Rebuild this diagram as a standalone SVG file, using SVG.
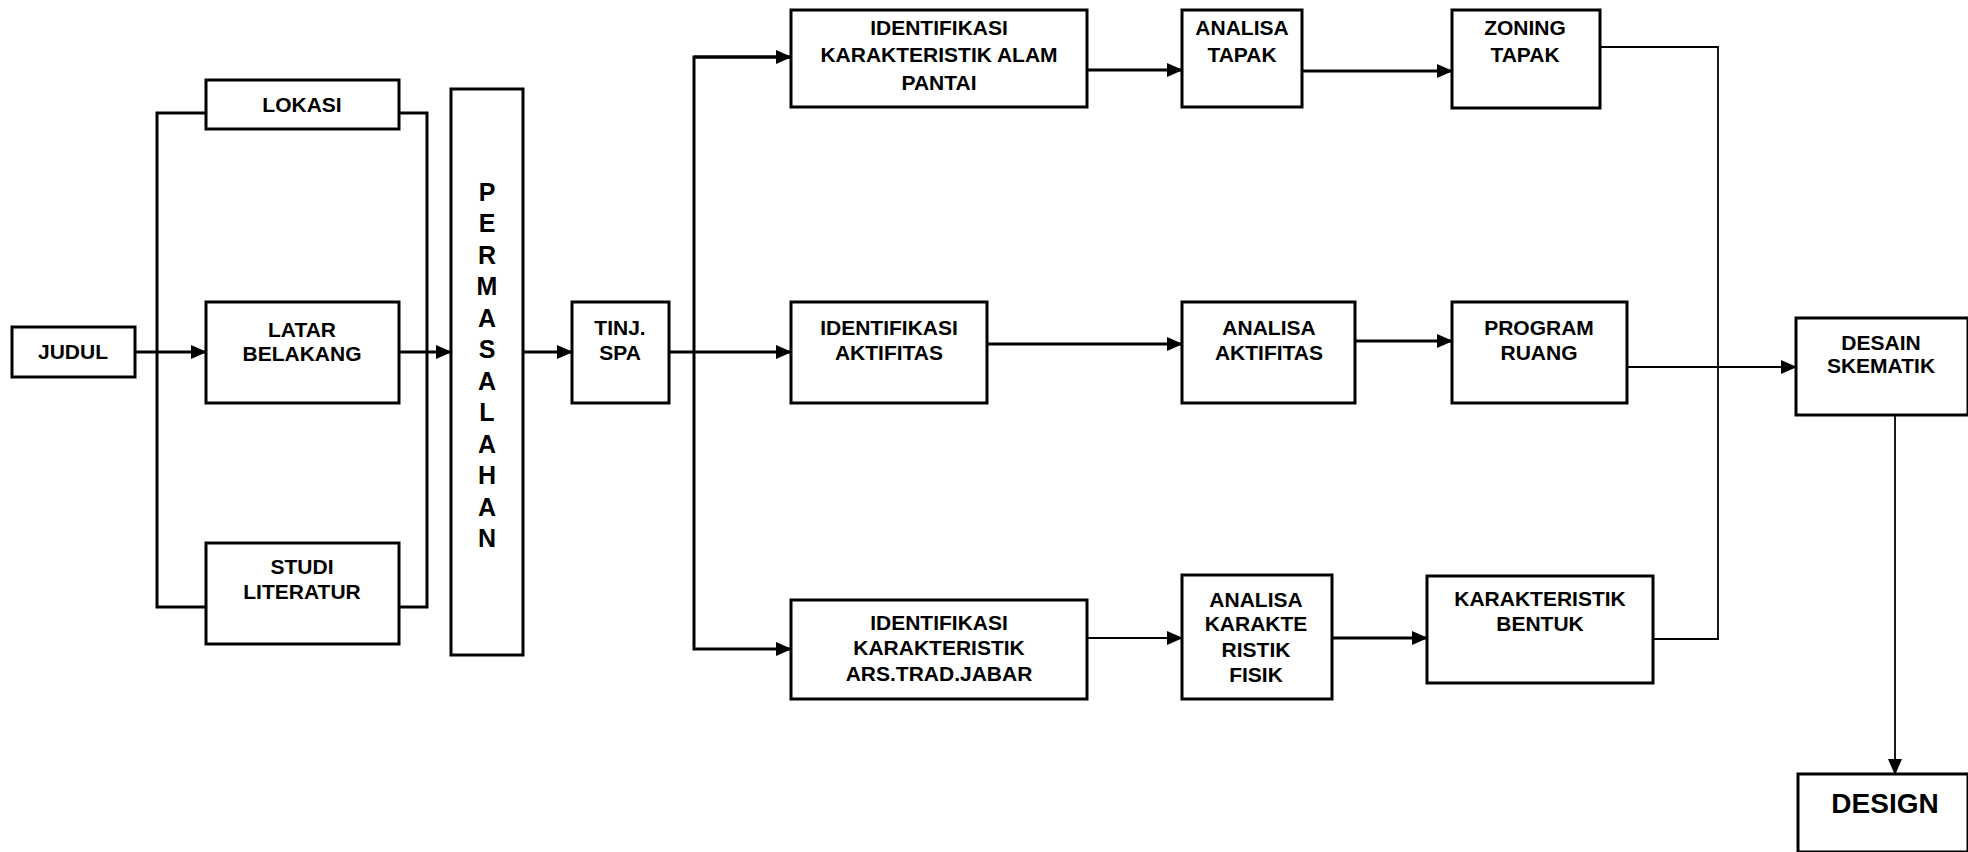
<svg xmlns="http://www.w3.org/2000/svg" width="1968" height="852" viewBox="0 0 1968 852">
<defs>
<marker id="arr" markerUnits="userSpaceOnUse" markerWidth="16" markerHeight="14" refX="15" refY="7" orient="auto">
<path d="M0,0 L16,7 L0,14 Z" fill="#000"/>
</marker>
<style>
.box{fill:#fff;stroke:#000;stroke-width:3}
.t{font-family:"Liberation Sans",Arial,sans-serif;font-weight:bold;font-size:21px;text-anchor:middle;fill:#000}
.v{font-size:25px}
.big{font-size:28px}
.c{fill:none;stroke:#000;stroke-width:3}
.thin{stroke-width:1.8}
</style>
</defs>
<rect width="1968" height="852" fill="#fff"/>
<g id="connectors">
<path class="c" d="M135,352 H206" marker-end="url(#arr)"/>
<path class="c" d="M206,113 H157 V607 H206"/>
<path class="c" d="M399,113 H427 V607 H399"/>
<path class="c" d="M399,352 H451" marker-end="url(#arr)"/>
<path class="c" d="M523,352 H572" marker-end="url(#arr)"/>
<path class="c" d="M669,352 H791" marker-end="url(#arr)"/>
<path class="c" d="M791,57 H694 V649 H791" marker-end="url(#arr)"/>
<path class="c" d="M694,57 H791" marker-end="url(#arr)"/>
<path class="c" d="M1087,70 H1182" marker-end="url(#arr)"/>
<path class="c" d="M1302,71 H1452" marker-end="url(#arr)"/>
<path class="c thin" d="M1600,47 H1718 V639 H1653"/>
<path class="c" d="M987,344 H1182" marker-end="url(#arr)"/>
<path class="c" d="M1355,341 H1452" marker-end="url(#arr)"/>
<path class="c thin" d="M1627,367 H1796" marker-end="url(#arr)"/>
<path class="c thin" d="M1087,638 H1182" marker-end="url(#arr)"/>
<path class="c" d="M1332,638 H1427" marker-end="url(#arr)"/>
<path class="c thin" d="M1895,415 V774" marker-end="url(#arr)"/>
</g>
<g id="judul"><rect class="box" x="12" y="327" width="123" height="50"/><text class="t" x="73" y="359">JUDUL</text></g>
<g id="lokasi"><rect class="box" x="206" y="80" width="193" height="49"/><text class="t" x="302" y="112">LOKASI</text></g>
<g id="latar"><rect class="box" x="206" y="302" width="193" height="101"/><text class="t" x="302" y="337">LATAR</text><text class="t" x="302" y="361">BELAKANG</text></g>
<g id="studi"><rect class="box" x="206" y="543" width="193" height="101"/><text class="t" x="302" y="574">STUDI</text><text class="t" x="302" y="599">LITERATUR</text></g>
<g id="permasalahan"><rect class="box" x="451" y="89" width="72" height="566"/>
<text class="t v" x="487" y="201">P</text><text class="t v" x="487" y="232">E</text><text class="t v" x="487" y="264">R</text><text class="t v" x="487" y="295">M</text><text class="t v" x="487" y="327">A</text><text class="t v" x="487" y="358">S</text><text class="t v" x="487" y="390">A</text><text class="t v" x="487" y="421">L</text><text class="t v" x="487" y="453">A</text><text class="t v" x="487" y="484">H</text><text class="t v" x="487" y="516">A</text><text class="t v" x="487" y="547">N</text></g>
<g id="tinj-spa"><rect class="box" x="572" y="302" width="97" height="101"/><text class="t" x="620" y="335">TINJ.</text><text class="t" x="620" y="360">SPA</text></g>
<g id="ident-alam"><rect class="box" x="791" y="10" width="296" height="97"/><text class="t" x="939" y="35">IDENTIFIKASI</text><text class="t" x="939" y="62">KARAKTERISTIK ALAM</text><text class="t" x="939" y="90">PANTAI</text></g>
<g id="analisa-tapak"><rect class="box" x="1182" y="10" width="120" height="97"/><text class="t" x="1242" y="35">ANALISA</text><text class="t" x="1242" y="62">TAPAK</text></g>
<g id="zoning-tapak"><rect class="box" x="1452" y="10" width="148" height="98"/><text class="t" x="1525" y="35">ZONING</text><text class="t" x="1525" y="62">TAPAK</text></g>
<g id="ident-aktifitas"><rect class="box" x="791" y="302" width="196" height="101"/><text class="t" x="889" y="335">IDENTIFIKASI</text><text class="t" x="889" y="360">AKTIFITAS</text></g>
<g id="analisa-aktifitas"><rect class="box" x="1182" y="302" width="173" height="101"/><text class="t" x="1269" y="335">ANALISA</text><text class="t" x="1269" y="360">AKTIFITAS</text></g>
<g id="program-ruang"><rect class="box" x="1452" y="302" width="175" height="101"/><text class="t" x="1539" y="335">PROGRAM</text><text class="t" x="1539" y="360">RUANG</text></g>
<g id="desain-skematik"><rect class="box" x="1796" y="318" width="172" height="97"/><text class="t" x="1881" y="350">DESAIN</text><text class="t" x="1881" y="373">SKEMATIK</text></g>
<g id="ident-ars"><rect class="box" x="791" y="600" width="296" height="99"/><text class="t" x="939" y="630">IDENTIFIKASI</text><text class="t" x="939" y="655">KARAKTERISTIK</text><text class="t" x="939" y="681">ARS.TRAD.JABAR</text></g>
<g id="analisa-karakte"><rect class="box" x="1182" y="575" width="150" height="124"/><text class="t" x="1256" y="607">ANALISA</text><text class="t" x="1256" y="631">KARAKTE</text><text class="t" x="1256" y="657">RISTIK</text><text class="t" x="1256" y="682">FISIK</text></g>
<g id="karakteristik-bentuk"><rect class="box" x="1427" y="576" width="226" height="107"/><text class="t" x="1540" y="606">KARAKTERISTIK</text><text class="t" x="1540" y="631">BENTUK</text></g>
<g id="design"><rect class="box" x="1798" y="774" width="170" height="78"/><text class="t big" x="1885" y="813">DESIGN</text></g>
</svg>
